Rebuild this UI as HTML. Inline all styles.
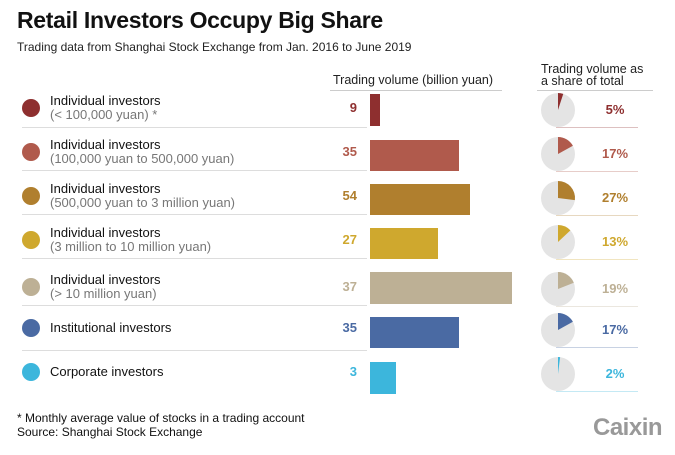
<!DOCTYPE html>
<html><head><meta charset="utf-8"><style>
body{margin:0;width:675px;height:455px;background:#fff;font-family:"Liberation Sans",Arial,sans-serif;position:relative;overflow:hidden}
.a{position:absolute;white-space:nowrap}
.t{font-size:13px;color:#111;line-height:14px}
.s{font-size:13px;color:#777;line-height:14px}
.n{font-size:13px;font-weight:bold;width:40px;text-align:right}
.p{font-size:13px;font-weight:bold;width:60px;text-align:center}
</style></head><body>
<div class="a" style="left:17px;top:7px;font-size:23px;font-weight:bold;color:#111;letter-spacing:-0.3px">Retail Investors Occupy Big Share</div>
<div class="a" style="left:17px;top:40px;font-size:12px;color:#222">Trading data from Shanghai Stock Exchange from Jan. 2016 to June 2019</div>
<div class="a" style="left:333px;top:73px;font-size:12.5px;color:#222">Trading volume (billion yuan)</div>
<div class="a" style="left:541px;top:63px;font-size:12.5px;color:#222;line-height:12px">Trading volume as<br>a share of total</div>
<div class="a" style="left:330px;top:90px;width:172px;height:1px;background:#ccc"></div>
<div class="a" style="left:537px;top:90px;width:116px;height:1px;background:#ccc"></div>
<svg class="a" style="left:0;top:0" width="675" height="455">
<g id="rows"></g>
</svg>
<div id="c"></div>
<div class="a" style="left:17px;top:411px;font-size:12px;color:#111;line-height:14px">* Monthly average value of stocks in a trading account<br>Source: Shanghai Stock Exchange</div>
<div class="a" style="left:593px;top:414px;font-size:24px;font-weight:bold;color:#999;letter-spacing:-0.5px">Caixin</div>
<script>
var R=[
["Individual investors","(< 100,000 yuan) *","9","5%","#8e2f2f",108,94,32,10,5],
["Individual investors","(100,000 yuan to 500,000 yuan)","35","17%","#b05a4c",152,140,31,89,17],
["Individual investors","(500,000 yuan to 3 million yuan)","54","27%","#b07f2e",196,184,31,100,27],
["Individual investors","(3 million to 10 million yuan)","27","13%","#cfa82e",240,228,31,68,13],
["Individual investors","(> 10 million yuan)","37","19%","#bdb095",287,272,32,142,19],
["Institutional investors","","35","17%","#4a6aa3",328,317,31,89,17],
["Corporate investors","","3","2%","#3cb6dc",372,362,32,26,2]];
var h="",s="";
var lines=[127,170,214,258,305,350,396];
R.forEach(function(r,i){
 var cy=r[5];
 s+='<circle cx="31" cy="'+cy+'" r="9" fill="'+r[4]+'"/>';
 if(i<6)s+='<rect x="22" y="'+lines[i]+'" width="345" height="1" fill="#ddd"/>';
 s+='<rect x="370" y="'+r[6]+'" width="'+r[8]+'" height="'+r[7]+'" fill="'+r[4]+'"/>';
 var px=558,py=cy+2,rr=17;
 s+='<circle cx="'+px+'" cy="'+py+'" r="'+rr+'" fill="#e4e4e4"/>';
 var a=r[9]/100*2*Math.PI,ex=px+rr*Math.sin(a),ey=py-rr*Math.cos(a);
 s+='<path d="M'+px+' '+py+' L'+px+' '+(py-rr)+' A'+rr+' '+rr+' 0 0 1 '+ex.toFixed(2)+' '+ey.toFixed(2)+' Z" fill="'+r[4]+'"/>';
 s+='<rect x="556" y="'+(py+rr)+'" width="82" height="1" fill="'+r[4]+'" opacity="0.3"/>';
 if(r[1]){h+='<div class="a t" style="left:50px;top:'+(cy-14)+'px">'+r[0]+'</div><div class="a s" style="left:50px;top:'+cy+'px">'+r[1].replace(/</g,'&lt;').replace(/>/g,'&gt;')+'</div>';}
 else h+='<div class="a t" style="left:50px;top:'+(cy-7)+'px">'+r[0]+'</div>';
 h+='<div class="a n" style="left:317px;top:'+(cy-8)+'px;color:'+r[4]+'">'+r[2]+'</div>';
 h+='<div class="a p" style="left:585px;top:'+(cy-6)+'px;color:'+r[4]+'">'+r[3]+'</div>';
});
document.getElementById('rows').innerHTML=s;
document.getElementById('c').innerHTML=h;
</script>
</body></html>
